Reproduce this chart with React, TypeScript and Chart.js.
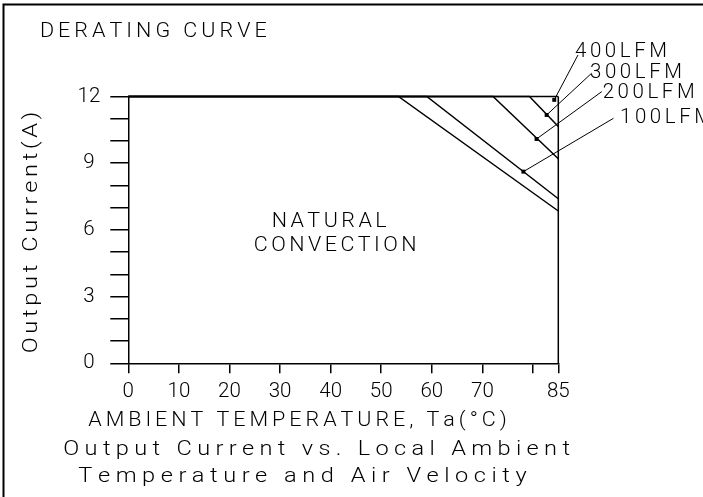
import React, { useEffect, useRef } from 'react';
import { Chart, registerables } from 'chart.js';

Chart.register(...registerables);

// ---------- data ----------
const X_TICKS = [0, 10, 20, 30, 40, 50, 60, 70, 80, 85];
const X_TICK_LABELS = ['0', '10', '20', '30', '40', '50', '60', '70', '', '85'];
const Y_LABEL_STEP = 3;

const NATURAL_X = [0, 53.4, 85];
const NATURAL_Y = [12, 12, 6.85];
const LFM100_X = [0, 59, 85];
const LFM100_Y = [12, 12, 7.4];
const LFM200_X = [0, 72.1, 85];
const LFM200_Y = [12, 12, 9.2];
const LFM300_X = [0, 79.3, 85];
const LFM300_Y = [12, 12, 10.65];
const LFM400_X = [0, 85];
const LFM400_Y = [12, 12];

// callouts (data units): dot on curve -> leader end near label
const CALLOUT_LABELS = ['400LFM', '300LFM', '200LFM', '100LFM'];
const CALLOUT_DOT_X = [84.2, 82.7, 80.7, 78.1];
const CALLOUT_DOT_Y = [11.85, 11.17, 10.09, 8.62];
const CALLOUT_END_X = [88.9, 91.6, 93.6, 95.9];
const CALLOUT_END_Y = [13.87, 13.05, 12.22, 11.02];
const CALLOUT_TEXT_X = [88.3, 91.26, 93.77, 97.19];
const CALLOUT_TEXT_Y = [13.79, 12.85, 11.92, 10.8];

const TITLE = 'DERATING CURVE';
const REGION_LABEL = ['NATURAL', 'CONVECTION'];
const X_TITLE = 'AMBIENT TEMPERATURE, Ta(°C)';
const Y_TITLE = 'Output Current(A)';
const CAPTION = ['Output Current vs. Local Ambient', 'Temperature and Air Velocity'];

// ---------- style ----------
const W = 703;
const H = 497;
const FONT = "Roboto, 'DejaVu Sans', sans-serif";
const WEIGHT = '300';
const INK = '#000';
const AREA = { left: 128.3, right: 558.3, top: 96.5, bottom: 363.3 };
const X_AXIS_H = 40;

function zip(xs: number[], ys: number[]) {
  return xs.map((x, i) => ({ x, y: ys[i] }));
}

function fitText(
  ctx: CanvasRenderingContext2D,
  text: string,
  x: number,
  baseline: number,
  width: number,
  size: number,
  stretch = 1,
  rotate = false
) {
  ctx.save();
  ctx.font = `${WEIGHT} ${size}px ${FONT}`;
  ctx.fillStyle = INK;
  ctx.textAlign = 'left';
  ctx.textBaseline = 'alphabetic';
  const chars = Array.from(text);
  const widths = chars.map((c) => ctx.measureText(c).width * stretch);
  const total = widths.reduce((a, b) => a + b, 0);
  const gap = chars.length > 1 ? (width - total) / (chars.length - 1) : 0;
  ctx.translate(x, baseline);
  if (rotate) ctx.rotate(-Math.PI / 2);
  let cx = 0;
  chars.forEach((c, i) => {
    ctx.save();
    ctx.translate(cx, 0);
    ctx.scale(stretch, 1);
    ctx.fillText(c, 0, 0);
    ctx.restore();
    cx += widths[i] + gap;
  });
  ctx.restore();
}

const decorPlugin = {
  id: 'decor',
  beforeDraw(chart: any) {
    const ctx = chart.ctx as CanvasRenderingContext2D;
    ctx.save();
    ctx.fillStyle = '#fff';
    ctx.fillRect(0, 0, W, H);
    ctx.strokeStyle = INK;
    ctx.lineWidth = 2;
    ctx.beginPath();
    ctx.moveTo(3.5, H);
    ctx.lineTo(3.5, 4.5);
    ctx.lineTo(W, 4.5);
    ctx.stroke();
    ctx.restore();
  },
  afterDraw(chart: any) {
    const ctx = chart.ctx as CanvasRenderingContext2D;
    const xs = chart.scales.x;
    const ys = chart.scales.y;
    const ca = chart.chartArea;
    // right frame edge of plot
    ctx.save();
    ctx.strokeStyle = INK;
    ctx.lineWidth = 1.5;
    ctx.beginPath();
    ctx.moveTo(ca.right, ca.top);
    ctx.lineTo(ca.right, ca.bottom);
    ctx.stroke();
    ctx.restore();

    fitText(ctx, TITLE, 40, 37.3, 226.7, 20.5, 1.05);

    // region label, centred on data position
    const cx = xs.getPixelForValue(40.3);
    fitText(ctx, REGION_LABEL[0], cx - 57.5 - 3, ys.getPixelForValue(6.12), 115, 20.5, 1.05);
    fitText(ctx, REGION_LABEL[1], cx - 81.3 + 3, ys.getPixelForValue(5.05), 162.7, 20.5, 1.05);

    CALLOUT_LABELS.forEach((t, i) => {
      fitText(
        ctx,
        t,
        xs.getPixelForValue(CALLOUT_TEXT_X[i]),
        ys.getPixelForValue(CALLOUT_TEXT_Y[i]),
        92,
        19.5,
        1.05
      );
    });

    fitText(ctx, Y_TITLE, 37.3, 353.3, 241.6, 20.5, 1.15, true);
    fitText(ctx, X_TITLE, 88.3, 426, 418.4, 20.5, 1.05);
    fitText(ctx, CAPTION[0], 63.3, 455, 506.7, 20.5, 1.15);
    fitText(ctx, CAPTION[1], 78.3, 482, 448.4, 20.5, 1.15);
  },
};

export default function App() {
  const ref = useRef<HTMLCanvasElement | null>(null);

  useEffect(() => {
    if (!ref.current) return;
    const tickFont = { family: FONT, size: 20.5, weight: WEIGHT as any };
    const curve = (xs: number[], ys: number[]) => ({
      data: zip(xs, ys),
      borderColor: INK,
      borderWidth: 1.5,
      pointRadius: 0,
      fill: false,
      tension: 0,
      clip: 4,
    });
    const callouts = CALLOUT_LABELS.map((label, i) => ({
      label,
      data: [
        { x: CALLOUT_DOT_X[i], y: CALLOUT_DOT_Y[i] },
        { x: CALLOUT_END_X[i], y: CALLOUT_END_Y[i] },
      ],
      borderColor: INK,
      borderWidth: 1,
      pointRadius: [2.8, 0],
      pointStyle: 'rect',
      pointBackgroundColor: INK,
      pointBorderColor: INK,
      pointBorderWidth: 0,
      fill: false,
      tension: 0,
      clip: false as any,
    }));

    const chart = new Chart(ref.current, {
      type: 'line',
      data: {
        datasets: [
          { label: 'Natural convection', ...curve(NATURAL_X, NATURAL_Y) },
          { label: '100LFM', ...curve(LFM100_X, LFM100_Y) },
          { label: '200LFM', ...curve(LFM200_X, LFM200_Y) },
          { label: '300LFM', ...curve(LFM300_X, LFM300_Y) },
          { label: '400LFM', ...curve(LFM400_X, LFM400_Y) },
          ...callouts,
        ] as any,
      },
      options: {
        animation: false,
        responsive: false,
        events: [],
        layout: {
          padding: {
            left: 0,
            top: AREA.top,
            right: W - AREA.right,
            bottom: H - AREA.bottom - X_AXIS_H,
          },
        },
        plugins: {
          legend: { display: false },
          tooltip: { enabled: false },
          title: { display: false },
        },
        scales: {
          x: {
            type: 'linear',
            min: 0,
            max: 85,
            afterBuildTicks: (s: any) => {
              s.ticks = X_TICKS.map((v) => ({ value: v }));
            },
            afterFit: (s: any) => {
              s.height = X_AXIS_H;
            },
            ticks: {
              autoSkip: false,
              maxRotation: 0,
              minRotation: 0,
              padding: 6,
              color: INK,
              font: tickFont,
              callback: (v: any) => {
                const i = X_TICKS.indexOf(Number(v));
                return i >= 0 ? X_TICK_LABELS[i] : '';
              },
            },
            grid: {
              display: true,
              drawOnChartArea: false,
              drawTicks: true,
              tickLength: 10,
              color: INK,
              lineWidth: 1.5,
            },
            border: { display: true, color: INK, width: 1.5 },
          },
          y: {
            type: 'linear',
            min: 0,
            max: 12,
            afterFit: (s: any) => {
              s.width = AREA.left;
            },
            ticks: {
              stepSize: 1,
              autoSkip: false,
              padding: 10,
              crossAlign: 'center',
              color: INK,
              font: tickFont,
              callback: (v: any) => (Number(v) % Y_LABEL_STEP === 0 ? String(v) : ''),
            },
            grid: {
              display: true,
              drawOnChartArea: false,
              drawTicks: true,
              tickLength: 18,
              color: INK,
              lineWidth: 1.5,
            },
            border: { display: true, color: INK, width: 1.5 },
          },
        },
      } as any,
      plugins: [decorPlugin],
    });
    return () => chart.destroy();
  }, []);

  return (
    <div style={{ position: 'fixed', left: 0, top: 0, width: W, height: H, background: '#fff' }}>
      <canvas ref={ref} width={W} height={H} style={{ display: 'block', width: W, height: H }} />
    </div>
  );
}
